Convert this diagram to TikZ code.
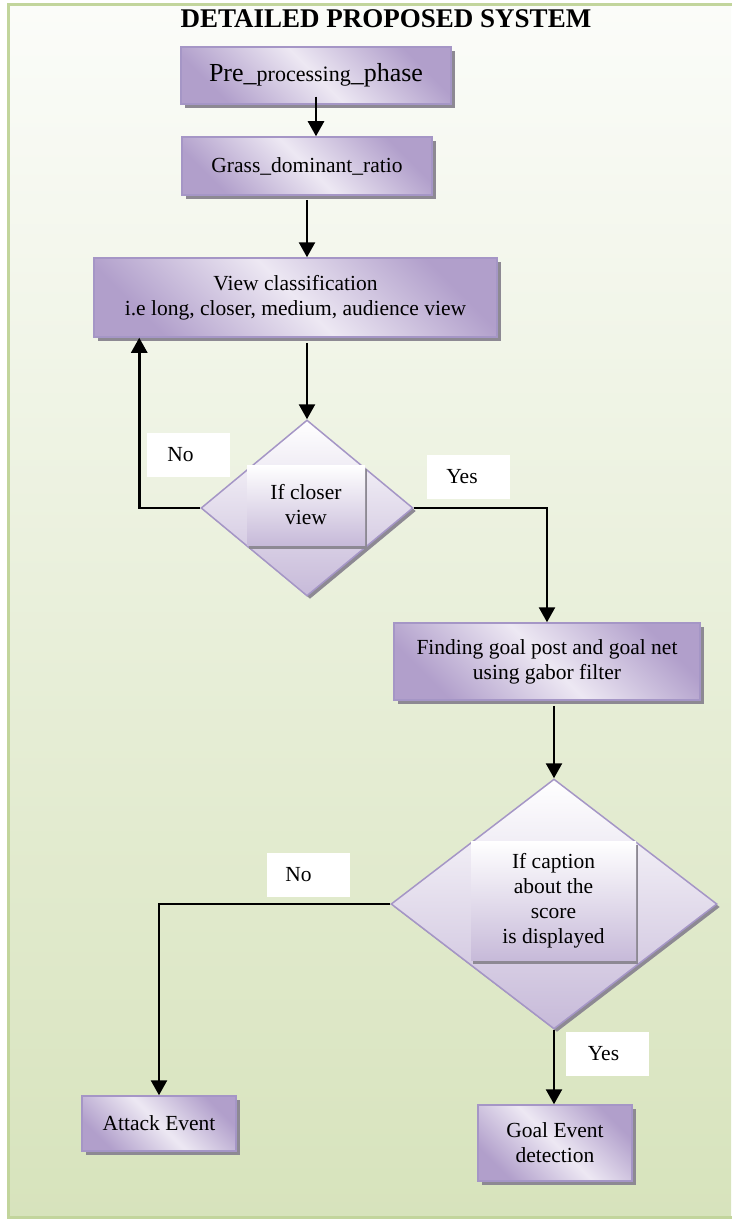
\documentclass[tikz,border=0pt]{standalone}
\usepackage{fontspec}
\setmainfont{Liberation Serif}
\usetikzlibrary{shapes.geometric,shadows,arrows.meta,calc}
\definecolor{pdark}{HTML}{B19FCB}
\definecolor{plight}{HTML}{EDE8F3}
\definecolor{pedge}{HTML}{A596C6}
\definecolor{shadowc}{HTML}{8D8993}
\definecolor{dbot}{HTML}{C7BAD9}
\definecolor{bgtop}{HTML}{FBFCF9}
\definecolor{bgbot}{HTML}{D7E3BC}
\definecolor{framec}{HTML}{C2D59C}
\begin{document}
\begin{tikzpicture}[x=1pt,y=-1pt,
  every node/.style={font=\fontsize{21.5}{25}\selectfont, inner sep=0pt, align=center},
  pbox/.style={draw=pedge, line width=1.5pt, top color=pdark, bottom color=pdark, middle color=plight, shading angle=-45,
    drop shadow={shadow xshift=4pt, shadow yshift=-4pt, fill=shadowc, opacity=1}},
  dec/.style={diamond, draw=pedge, line width=1.5pt, top color=white, bottom color=dbot,
    drop shadow={shadow xshift=3pt, shadow yshift=-3pt, fill=shadowc, opacity=1}},
  innerbox/.style={top color=white, bottom color=dbot,
    drop shadow={shadow xshift=1.5pt, shadow yshift=-3.5pt, fill=shadowc, opacity=1}},
  lab/.style={fill=white, minimum width=83pt, minimum height=44pt},
  arr/.style={line width=2.5pt, -{Triangle[length=15pt,width=16pt]}}
]
\useasboundingbox (0,0) rectangle (731,1220);
\fill[white] (0,0) rectangle (731,1220);
\shade[top color=bgtop, bottom color=bgbot] (8,5) rectangle (731,1218);
\draw[framec, line width=3pt] (735,5) -- (8,5) -- (8,1217) -- (735,1217);

\node[font=\fontsize{27}{30}\selectfont\bfseries] (title) at (386,19) {DETAILED PROPOSED SYSTEM};

\node[pbox, minimum width=270pt, minimum height=57pt, font=\fontsize{26}{30}\selectfont] (b1) at (316,75.5)
  {Pre\_{\fontsize{22}{25}\selectfont processing}\_phase};
\node[pbox, minimum width=250pt, minimum height=58pt] (b2) at (307,166) {Grass\_dominant\_ratio};
\node[pbox, minimum width=403pt, minimum height=79pt] (b3) at (295.5,297.5)
  {View classification\\i.e long, closer, medium, audience view};

\node[dec, minimum width=212pt, minimum height=176pt] (d1) at (307,508) {};
\node[innerbox, minimum width=118pt, minimum height=80pt] (t1) at (306,505) {If closer\\view};

\node[lab, label={[xshift=-8pt]center:No}] (no1) at (188.5,455) {};
\node[lab, label={[xshift=-6pt]center:Yes}] (yes1) at (468,477) {};

\node[pbox, minimum width=306pt, minimum height=77pt] (b4) at (547,661.5)
  {Finding goal post and goal net\\using gabor filter};

\node[dec, minimum width=326pt, minimum height=250pt] (d2) at (554,904) {};
\node[innerbox, minimum width=165pt, minimum height=119pt] (t2) at (553.5,900.5)
  {If caption\\about the\\score\\is displayed};

\node[lab, label={[xshift=-10pt]center:No}] (no2) at (308.5,874.5) {};
\node[lab, label={[xshift=-4pt]center:Yes}] (yes2) at (607.5,1054) {};

\node[pbox, minimum width=154pt, minimum height=55pt] (att) at (159,1123.5) {Attack Event};
\node[pbox, minimum width=154pt, minimum height=76pt] (goal) at (555,1143) {Goal Event\\detection};

\draw[arr] ($(b1.south)+(0,-8)$) -- (b1.south |- b2.north);
\draw[arr] ($(b2.south)+(0,4)$) -- (b2.south |- b3.north);
\draw[arr] ($(d1.north |- b3.south)+(0,5)$) -- (d1.north);
\draw[arr] (d1.west) -| ($(b3.south west)+(46,0)$);
\draw[arr] (d1.east) -| (b4.north);
\draw[arr] ($(d2.north |- b4.south)+(0,5)$) -- (d2.north);
\draw[arr] (d2.west) -| (att.north);
\draw[arr] (d2.south) -- (d2.south |- goal.north);
\end{tikzpicture}
\end{document}
